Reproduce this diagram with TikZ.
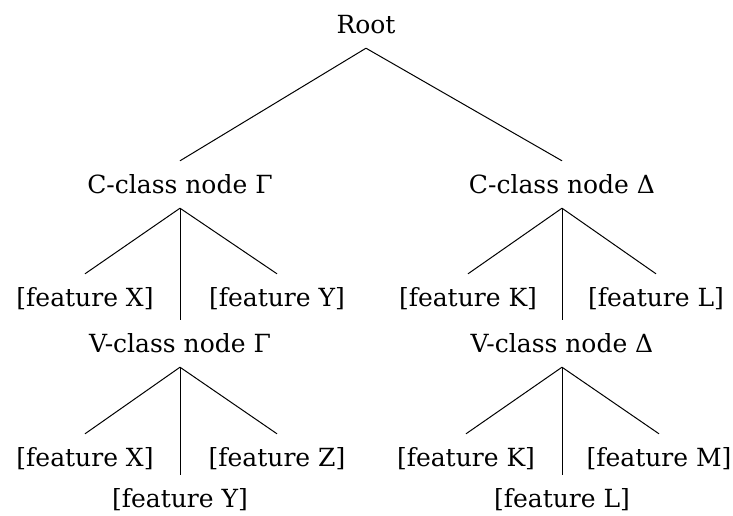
\documentclass[tikz,border=0pt]{standalone}
\usepackage{fontspec}
\setmainfont{DejaVu Serif}
\usetikzlibrary{positioning}
\tikzset{lbl/.style={font=\fontsize{25}{30}\selectfont, text height=22pt, text depth=5pt, inner xsep=2pt, inner ysep=10pt, anchor=base},
  branch/.style={line width=1pt}}
\begin{document}
\begin{tikzpicture}[x=1pt,y=-1pt]
	\useasboundingbox (0,0) rectangle (733,515);
	\node[lbl] (root) at (366,33) {Root};
	% left subtree
	\node[lbl] (cg) at (180,193) {C-class node Γ};
	\node[lbl] (cgx) at (85,306) {[feature X]};
	\node[lbl] (cgy) at (277,306) {[feature Y]};
	\node[lbl] (vg) at (180,352) {V-class node Γ};
	\node[lbl] (vgx) at (85,466) {[feature X]};
	\node[lbl] (vgz) at (277,466) {[feature Z]};
	\node[lbl] (vgy) at (180,507) {[feature Y]};
	% right subtree
	\node[lbl] (cd) at (562,193) {C-class node Δ};
	\node[lbl] (cdk) at (468,306) {[feature K]};
	\node[lbl] (cdl) at (656,306) {[feature L]};
	\node[lbl] (vd) at (562,352) {V-class node Δ};
	\node[lbl] (vdk) at (466,466) {[feature K]};
	\node[lbl] (vdm) at (659,466) {[feature M]};
	\node[lbl] (vdl) at (562,507) {[feature L]};
	\draw[branch] (root.south) -- (cg.north);
	\draw[branch] (root.south) -- (cd.north);
	\foreach \p/\a/\b/\c in {cg/cgx/vg/cgy, vg/vgx/vgy/vgz, cd/cdk/vd/cdl, vd/vdk/vdl/vdm} {
		\draw[branch] (\p.south) -- (\a.north);
		\draw[branch] (\p.south) -- (\b.north);
		\draw[branch] (\p.south) -- (\c.north);
	}
\end{tikzpicture}
\end{document}
